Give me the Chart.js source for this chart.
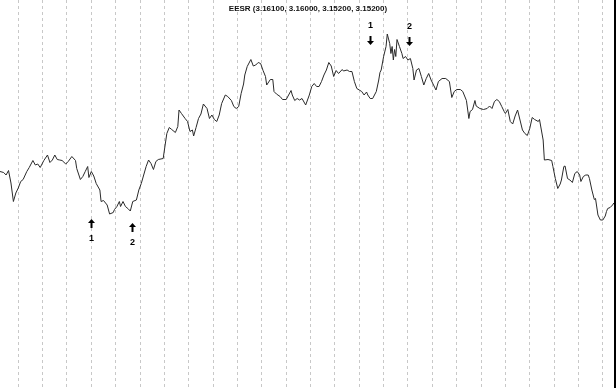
<!DOCTYPE html>
<html>
<head>
<meta charset="utf-8">
<script src="https://cdn.jsdelivr.net/npm/chart.js@4.4.0/dist/chart.umd.min.js"></script>
<style>
  html, body { margin: 0; padding: 0; background: #fff; }
  #wrap { width: 616px; height: 388px; position: relative; }
</style>
</head>
<body>
<div id="wrap"><canvas id="eesr"></canvas></div>
<script>
// EESR daily closes
const symbol = "EESR";
const ohlc = ["3.16100", "3.16000", "3.15200", "3.15200"];

const bars = [
  0, 3, 5, 7, 9, 11, 13, 15, 17, 19, 22, 24, 27, 29, 31, 33, 36, 39, 41, 43,
  45, 47, 49, 51, 54, 56, 59, 62, 63, 66, 68, 70, 72, 73, 75, 77, 79, 82, 83, 85,
  88, 90, 93, 94, 96, 98, 99, 101, 103, 105, 107, 109, 112, 114, 116, 118, 120, 122, 124, 126,
  128, 130, 134, 135, 137, 139, 141, 144, 146, 147, 149, 152, 154, 156, 158, 159, 161, 163, 165, 167,
  170, 172, 174, 176, 178, 180, 182, 185, 187, 190, 192, 194, 196, 198, 200, 201, 203, 206, 208, 210,
  212, 214, 216, 218, 219, 222, 224, 225, 227, 230, 232, 235, 237, 239, 240, 242, 244, 246, 248, 251,
  254, 256, 258, 260, 262, 264, 266, 268, 270, 272, 274, 276, 278, 281, 282, 285, 287, 289, 291, 293,
  295, 297, 299, 301, 302, 304, 306, 309, 311, 312, 313, 315, 317, 318, 320, 321, 322, 323, 324, 325,
  326, 328, 330, 331, 333, 335, 337, 339, 340, 342, 344, 346, 348, 350, 352, 354, 356, 358, 360, 363,
  366, 369, 371, 373, 375, 378, 380, 383, 385, 386, 388, 390, 391, 394, 397, 400, 402, 404, 406, 408,
  410, 412, 414, 415, 417, 419, 421, 423, 425, 427, 429, 431, 433, 435, 437, 439, 442, 443, 446, 447,
  450, 453, 454, 456, 458, 460, 461, 463, 464, 466, 468, 470, 472, 474, 476, 477, 479, 481, 483, 484,
  486, 488, 489, 491, 493, 495, 497, 498, 499, 501, 503, 504
];

const closes = [
  3.1583, 3.1581, 3.1576, 3.1585, 3.1560, 3.1523, 3.1540, 3.1550, 3.1563, 3.1567, 3.1583, 3.1591, 3.1605, 3.1596, 3.1598, 3.1591, 3.1605, 3.1616, 3.1601, 3.1606,
  3.1616, 3.1607, 3.1606, 3.1605, 3.1598, 3.1603, 3.1613, 3.1605, 3.1589, 3.1567, 3.1573, 3.1583, 3.1593, 3.1571, 3.1583, 3.1574, 3.1559, 3.1546, 3.1523, 3.1525,
  3.1516, 3.1498, 3.1501, 3.1507, 3.1513, 3.1523, 3.1513, 3.1523, 3.1513, 3.1509, 3.1504, 3.1523, 3.1526, 3.1546, 3.1559, 3.1576, 3.1593, 3.1606, 3.1599, 3.1587,
  3.1603, 3.1607, 3.1609, 3.1626, 3.1659, 3.1671, 3.1667, 3.1661, 3.1673, 3.1706, 3.1699, 3.1689, 3.1683, 3.1663, 3.1666, 3.1654, 3.1671, 3.1689, 3.1698, 3.1718,
  3.1709, 3.1689, 3.1696, 3.1687, 3.1683, 3.1696, 3.1719, 3.1736, 3.1733, 3.1725, 3.1713, 3.1709, 3.1713, 3.1739, 3.1758, 3.1776, 3.1793, 3.1807, 3.1794, 3.1796,
  3.1801, 3.1799, 3.1785, 3.1773, 3.1756, 3.1767, 3.1767, 3.1743, 3.1738, 3.1733, 3.1727, 3.1727, 3.1736, 3.1745, 3.1736, 3.1725, 3.1729, 3.1726, 3.1729, 3.1716,
  3.1736, 3.1753, 3.1759, 3.1753, 3.1753, 3.1763, 3.1776, 3.1786, 3.1801, 3.1794, 3.1773, 3.1785, 3.1779, 3.1787, 3.1784, 3.1786, 3.1783, 3.1783, 3.1763, 3.1749,
  3.1746, 3.1743, 3.1736, 3.1742, 3.1736, 3.1729, 3.1729, 3.1743, 3.1766, 3.1781, 3.1786, 3.1813, 3.1833, 3.1858, 3.1839, 3.1819, 3.1833, 3.1806, 3.1827, 3.1813,
  3.1847, 3.1833, 3.1819, 3.1809, 3.1813, 3.1806, 3.1809, 3.1789, 3.1766, 3.1786, 3.1789, 3.1773, 3.1756, 3.1769, 3.1779, 3.1766, 3.1756, 3.1746, 3.1763, 3.1769,
  3.1769, 3.1763, 3.1731, 3.1743, 3.1747, 3.1747, 3.1743, 3.1725, 3.1689, 3.1703, 3.1707, 3.1725, 3.1714, 3.1709, 3.1707, 3.1709, 3.1714, 3.1709, 3.1723, 3.1727,
  3.1723, 3.1713, 3.1703, 3.1699, 3.1707, 3.1683, 3.1678, 3.1694, 3.1706, 3.1686, 3.1666, 3.1659, 3.1655, 3.1669, 3.1691, 3.1687, 3.1683, 3.1687, 3.1646, 3.1606,
  3.1607, 3.1605, 3.1593, 3.1569, 3.1549, 3.1558, 3.1566, 3.1593, 3.1594, 3.1569, 3.1566, 3.1561, 3.1579, 3.1583, 3.1576, 3.1563, 3.1573, 3.1576, 3.1576, 3.1569,
  3.1546, 3.1527, 3.1529, 3.1496, 3.1486, 3.1486, 3.1494, 3.1503, 3.1509, 3.1511, 3.1516, 3.1520
];

// buy (up) / sell (down) markers
const signalBars = [75, 108, 304, 336];
const signalLevels = [3.1489, 3.1481, 3.1836, 3.1834];
const signalLabels = ["1", "2", "1", "2"];
const signalUp = [true, true, false, false];

const series = bars.map((b, i) => ({ x: b, y: closes[i] }));

const annotate = {
  id: "annotate",
  afterDraw(chart) {
    const { ctx, scales: { x, y } } = chart;
    ctx.save();
    ctx.fillStyle = "#111";
    ctx.textAlign = "center";
    ctx.font = "bold 8px 'Liberation Sans', Arial, sans-serif";
    ctx.fillText(`${symbol} (${ohlc.join(", ")})`, chart.width / 2, 11);

    ctx.fillStyle = "#000";
    ctx.font = "bold 9px 'Liberation Sans', Arial, sans-serif";
    ctx.textBaseline = "middle";
    signalBars.forEach((b, i) => {
      const px = Math.round(x.getPixelForValue(b)) + 0.5;
      const py = Math.round(y.getPixelForValue(signalLevels[i]));
      const d = signalUp[i] ? 1 : -1;
      ctx.beginPath();
      ctx.moveTo(px, py);
      ctx.lineTo(px - 3.5, py + 4 * d);
      ctx.lineTo(px + 3.5, py + 4 * d);
      ctx.closePath();
      ctx.fill();
      ctx.fillRect(px - 1, d > 0 ? py + 4 : py - 9, 2, 5);
      ctx.fillText(signalLabels[i], px, py + 19.5 * d);
    });
    ctx.restore();
  },
};

new Chart(document.getElementById("eesr"), {
  type: "line",
  data: {
    datasets: [{
      data: series,
      borderColor: "#2a2a2a",
      borderWidth: 1,
      pointRadius: 0,
      tension: 0,
      fill: false,
    }],
  },
  options: {
    responsive: true,
    maintainAspectRatio: false,
    animation: false,
    layout: { padding: { left: 0, right: 1, top: 0, bottom: 0 } },
    plugins: { legend: { display: false }, tooltip: { enabled: false } },
    scales: {
      x: {
        type: "linear",
        min: 0,
        max: 505,
        afterBuildTicks: (axis) => {
          const t = [];
          for (let v = 15; v <= 505; v += 20) t.push({ value: v });
          axis.ticks = t;
        },
        ticks: { display: false },
        grid: { color: "#c8c8c8", lineWidth: 1, drawTicks: false },
        border: { display: false, dash: [3, 3] },
      },
      y: {
        position: "right",
        min: 3.115,
        max: 3.1926,
        ticks: { display: false },
        grid: { display: false, drawTicks: false },
        border: { display: true, color: "#000", width: 2, dash: [1, 1] },
      },
    },
  },
  plugins: [annotate],
});
</script>
</body>
</html>
